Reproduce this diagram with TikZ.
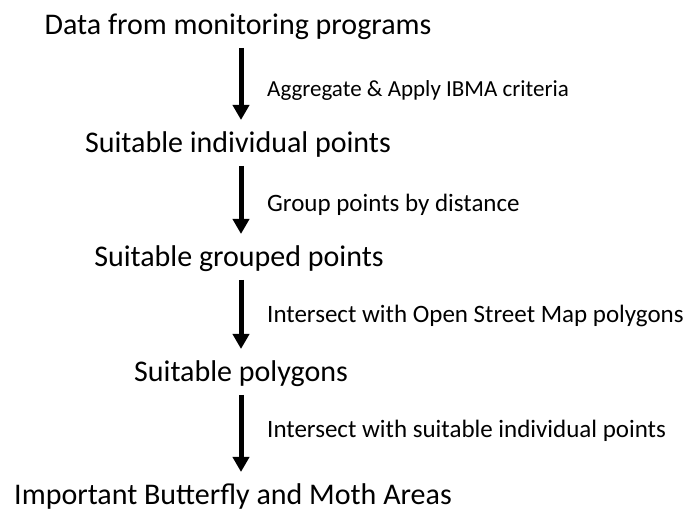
\documentclass[tikz,border=0pt]{standalone}
\usepackage{fontspec}
\setmainfont{Carlito}
\usepackage{tikz}
\usetikzlibrary{arrows.meta}

\begin{document}
\begin{tikzpicture}[x=1pt,y=1pt,
    stage/.style={anchor=base,inner sep=0pt,font=\fontsize{30}{36}\selectfont},
    steplabel/.style={anchor=base west,inner sep=0pt,font=\fontsize{25}{30}\selectfont},
    flow/.style={line width=5pt,-{Triangle[width=16pt,length=15pt]},shorten <=13pt,shorten >=33pt}]
  \useasboundingbox (0,0) rectangle (691,514);
  \coordinate (axis) at (241,0);
  % stages
  \node[stage] (data)    at (238,479) {Data from monitoring programs};
  \node[stage] (indiv)   at (238,361) {Suitable individual points};
  \node[stage] (grouped) at (239,247) {Suitable grouped points};
  \node[stage] (poly)    at (241,132) {Suitable polygons};
  \node[stage] (ibma)    at (233,9)   {Important Butterfly and Moth Areas};
  % operations
  \node[steplabel,font=\fontsize{23}{28}\selectfont] (agg) at (267,417) {Aggregate \& Apply IBMA criteria};
  \node[steplabel] (grp)  at (267,302) {Group points by distance};
  \node[steplabel] (osm)  at (267,191) {Intersect with Open Street Map polygons};
  \node[steplabel] (isec) at (267,76)  {Intersect with suitable individual points};
  % arrows
  \draw[flow] (data.base -| axis) -- (indiv.base -| axis);
  \draw[flow] (indiv.base -| axis) -- (grouped.base -| axis);
  \draw[flow] (grouped.base -| axis) -- (poly.base -| axis);
  \draw[flow] (poly.base -| axis) -- (ibma.base -| axis);
\end{tikzpicture}
\end{document}
